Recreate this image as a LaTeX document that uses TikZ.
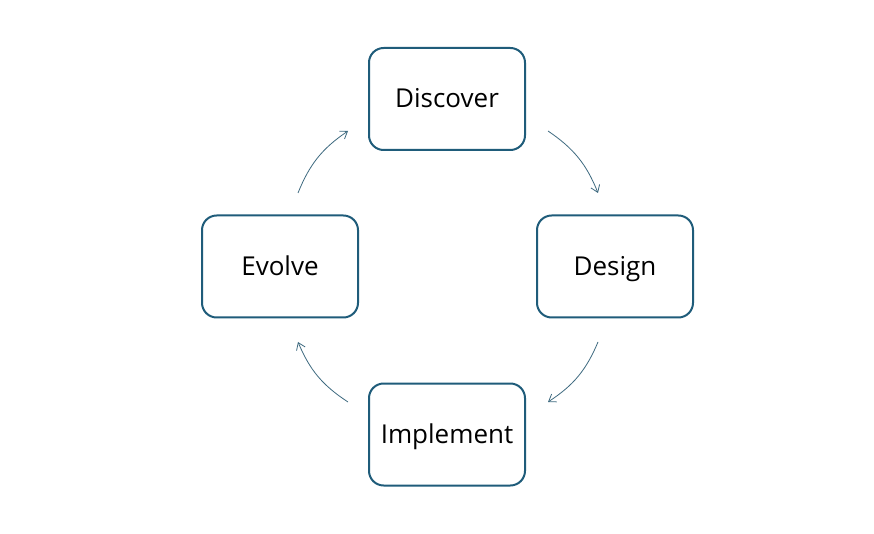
\documentclass[tikz,border=0pt]{standalone}
\usepackage{fontspec}
\setmainfont{Open Sans}
\usetikzlibrary{arrows.meta}
\definecolor{boxline}{HTML}{1F5C7A}
\definecolor{arrowline}{HTML}{3E6A80}
\begin{document}
\begin{tikzpicture}[x=0.75pt,y=-0.75pt,
  stagebox/.style={draw=boxline,line width=1.5pt,rounded corners=11pt,minimum width=117pt,minimum height=76.5pt,font=\fontsize{19.5}{23}\selectfont,text height=16pt,text depth=3pt,inner sep=0pt},
  flow/.style={draw=arrowline,line width=0.6pt,-{Straight Barb[length=5pt,width=7pt]},bend left=17}]
\useasboundingbox[fill=white] (0,0) rectangle (874,534);
\node[stagebox] (disc) at (447,99) {Discover};
\node[stagebox] (des) at (615,266.5) {Design};
\node[stagebox] (evo) at (280,266.5) {Evolve};
\node[stagebox] (imp) at (447,434.5) {Implement};
\coordinate (a1s) at (548,131); \coordinate (a1e) at (598,193);
\coordinate (a2s) at (598,342); \coordinate (a2e) at (548,402);
\coordinate (a3s) at (348,402); \coordinate (a3e) at (298,342);
\coordinate (a4s) at (298,193); \coordinate (a4e) at (348,131);
\draw[flow] (a1s) to (a1e);
\draw[flow] (a2s) to (a2e);
\draw[flow] (a3s) to (a3e);
\draw[flow] (a4s) to (a4e);
\end{tikzpicture}
\end{document}
